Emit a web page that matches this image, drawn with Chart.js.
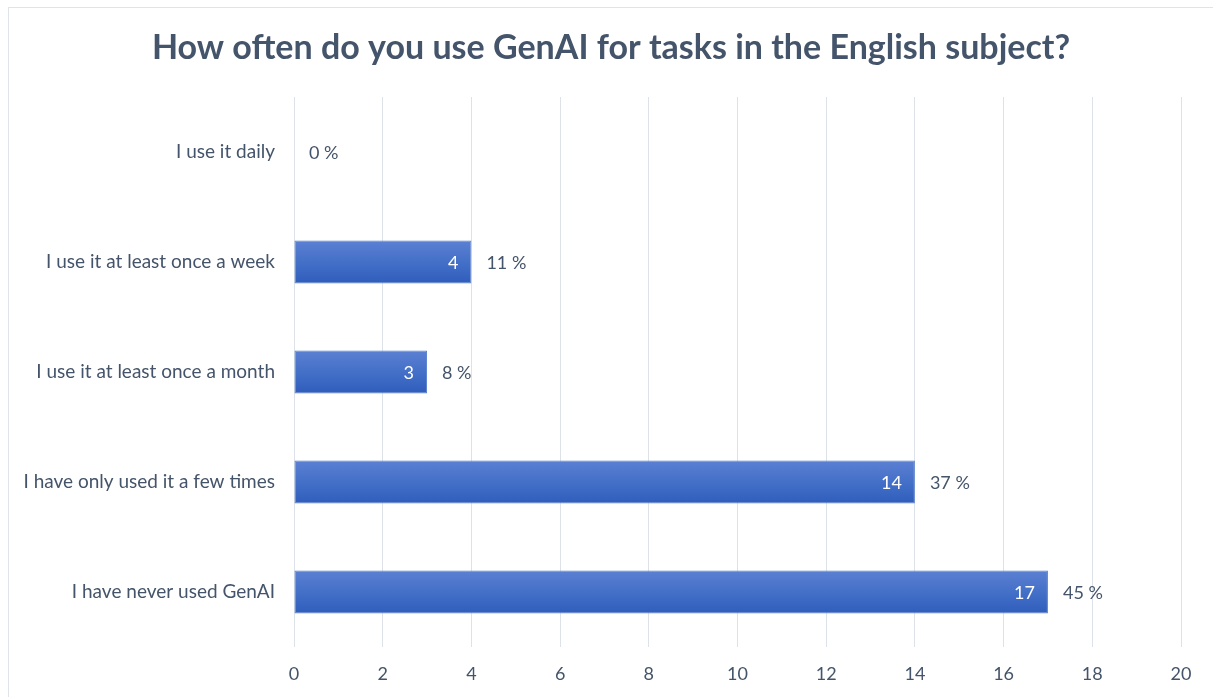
<!DOCTYPE html>
<html>
<head>
<meta charset="utf-8">
<script src="https://cdn.jsdelivr.net/npm/chart.js@4"></script>
<style>
  html, body { margin: 0; padding: 0; background: #fff; }
  #wrap { position: relative; width: 1213px; height: 697px; overflow: hidden; }
  #frame { position: absolute; left: 8px; top: 7px; width: 1220px; height: 720px; border: 1px solid #dfe4ea; box-sizing: border-box; }
  canvas { position: absolute; left: 0; top: 0; }
</style>
</head>
<body>
<div id="wrap">
  <div id="frame"></div>
  <canvas id="chart" width="1213" height="697"></canvas>
</div>
<script>
// Chart data
const titleText = 'How often do you use GenAI for tasks in the English subject?';
const categories = [
    'I use it daily',
    'I use it at least once a week',
    'I use it at least once a month',
    'I have only used it a few times',
    'I have never used GenAI'
];
const counts = [0, 4, 3, 14, 17];
const percents = ['0 %', '11 %', '8 %', '37 %', '45 %'];
const xTicks = [0, 2, 4, 6, 8, 10, 12, 14, 16, 18, 20];

const textColor = '#44546a';
const fontFamily = 'Lato, "Open Sans", sans-serif';
const barPct = 0.39;

// Vertical gradient for each bar, from the bar's own top to bottom
function barGradient(context) {
    const chart = context.chart;
    const yScale = chart.scales.y;
    if (!yScale || context.dataIndex === undefined) return '#4472c4';
    const center = yScale.getPixelForValue(context.dataIndex);
    const half = (yScale.height / categories.length) * barPct / 2;
    if (!isFinite(center) || !isFinite(half)) return '#4472c4';
    const g = chart.ctx.createLinearGradient(0, center - half, 0, center + half);
    g.addColorStop(0, '#5b80d2');
    g.addColorStop(0.5, '#4470c8');
    g.addColorStop(1, '#2f5dbb');
    return g;
}

// Title centred on the frame, not on the padded layout
const frameTitle = {
    id: 'frameTitle',
    afterDraw(chart) {
        const ctx = chart.ctx;
        ctx.save();
        ctx.font = 'bold 34px ' + fontFamily;
        ctx.fillStyle = textColor;
        ctx.textAlign = 'center';
        ctx.textBaseline = 'middle';
        ctx.fillText(titleText, 611, 48);
        ctx.restore();
    }
};

// Draws the value inside the bar and the percentage after it
const barLabels = {
    id: 'barLabels',
    afterDatasetsDraw(chart) {
        const ctx = chart.ctx;
        const meta = chart.getDatasetMeta(0);
        ctx.save();
        ctx.font = '18px ' + fontFamily;
        ctx.textBaseline = 'middle';
        meta.data.forEach((bar, i) => {
            if (counts[i] > 0) {
                ctx.fillStyle = '#ffffff';
                ctx.textAlign = 'right';
                ctx.fillText(String(counts[i]), bar.x - 13, bar.y + 1);
            }
            ctx.fillStyle = textColor;
            ctx.textAlign = 'left';
            ctx.fillText(percents[i], bar.x + 15, bar.y + 1);
        });
        ctx.restore();
    }
};

const chart = new Chart(document.getElementById('chart'), {
    type: 'bar',
    data: {
        labels: categories,
        datasets: [{
            data: counts,
            backgroundColor: barGradient,
            borderColor: '#5a7fcc',
            borderWidth: 1,
            borderSkipped: false,
            barPercentage: barPct,
            categoryPercentage: 1
        }]
    },
    options: {
        indexAxis: 'y',
        responsive: false,
        animation: false,
        layout: { padding: { left: 8, right: 32, top: 97, bottom: 0 } },
        plugins: {
            legend: { display: false },
            tooltip: { enabled: false },
            title: { display: false }
        },
        scales: {
            x: {
                min: 0,
                max: 20,
                afterBuildTicks: (scale) => { scale.ticks = xTicks.map(v => ({ value: v })); },
                afterFit: (scale) => { scale.height = 50; },
                grid: { color: '#dde2e9', drawTicks: false },
                border: { display: false },
                ticks: { color: textColor, padding: 16, font: { family: fontFamily, size: 18 } }
            },
            y: {
                afterFit: (scale) => { scale.width = 286; },
                grid: { display: false },
                border: { display: false },
                ticks: { color: textColor, padding: 11, font: { family: fontFamily, size: 19 } }
            }
        }
    },
    plugins: [barLabels, frameTitle]
});
</script>
</body>
</html>
